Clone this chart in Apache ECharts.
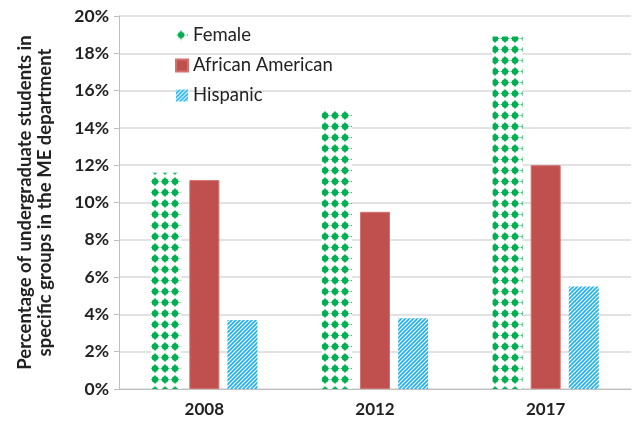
<!DOCTYPE html>
<html><head><meta charset="utf-8">
<script src="https://cdn.jsdelivr.net/npm/echarts@6/dist/echarts.min.js"></script>
<style>html,body{margin:0;padding:0;background:#fff}#c{width:633px;height:428px}</style>
</head><body><div id="c"></div>
<script>
const categories = ['2008', '2012', '2017'];
const seriesNames = ['Female', 'African American', 'Hispanic'];
const female = [11.6, 15.0, 18.9];
const africanAmerican = [11.2, 9.5, 12.0];
const hispanic = [3.7, 3.8, 5.5];
const yTicks = [0, 2, 4, 6, 8, 10, 12, 14, 16, 18, 20];

function dotPattern() {
  const c = document.createElement('canvas');
  c.width = 10; c.height = 11;
  const g = c.getContext('2d');
  g.fillStyle = '#ffffff'; g.fillRect(0, 0, 10, 11);
  g.fillStyle = '#00b050';
  g.beginPath(); g.arc(5, 5.5, 3.2, 0, Math.PI * 2); g.fill();
  g.beginPath();
  g.moveTo(5, 0.5); g.lineTo(7, 5.5); g.lineTo(5, 10.5); g.lineTo(3, 5.5); g.closePath(); g.fill();
  g.beginPath();
  g.moveTo(0, 5.5); g.lineTo(5, 4); g.lineTo(10, 5.5); g.lineTo(5, 7); g.closePath(); g.fill();
  return c;
}
function stripePattern() {
  const c = document.createElement('canvas');
  c.width = 4; c.height = 4;
  const g = c.getContext('2d');
  g.fillStyle = '#ffffff'; g.fillRect(0, 0, 4, 4);
  g.strokeStyle = '#1cb0ef'; g.lineWidth = 1.6;
  g.beginPath();
  g.moveTo(-1, 1); g.lineTo(1, -1);
  g.moveTo(-1, 5); g.lineTo(5, -1);
  g.moveTo(3, 5); g.lineTo(5, 3);
  g.stroke();
  return c;
}
const femaleFill = { image: dotPattern(), repeat: 'repeat' };
const hispFill = { image: stripePattern(), repeat: 'repeat' };

const chart = echarts.init(document.getElementById('c'), null, { renderer: 'canvas' });
const font = 'Lato, "Open Sans", sans-serif';
chart.setOption({
  animation: false,
  grid: { left: 119, right: 2, top: 16, bottom: 39 },
  legend: {
    orient: 'vertical', left: 170, top: 21, itemGap: 11,
    itemWidth: 12, itemHeight: 12,
    textStyle: { fontFamily: font, fontSize: 18.5, color: '#222' },
    data: seriesNames.map(n => ({ name: n, icon: 'rect' }))
  },
  xAxis: {
    type: 'category', data: categories,
    axisLine: { lineStyle: { color: '#bfbfbf', width: 1 } },
    axisTick: { show: false },
    axisLabel: { fontFamily: font, fontWeight: 'bold', fontSize: 17, color: '#222', margin: 12 }
  },
  yAxis: {
    type: 'value', min: 0, max: 20, interval: 2,
    name: 'Percentage of undergraduate students in\nspecific groups in the ME department',
    nameLocation: 'middle', nameGap: 64, nameRotate: 90,
    nameTextStyle: { fontFamily: font, fontWeight: 'bold', fontSize: 18.5, color: '#222', lineHeight: 20 },
    axisLine: { show: true, lineStyle: { color: '#bfbfbf' } },
    axisTick: { show: true, inside: false, length: 5, lineStyle: { color: '#bfbfbf' } },
    axisLabel: { fontFamily: font, fontWeight: 'bold', fontSize: 17.5, color: '#222', margin: 10,
      formatter: v => (yTicks.includes(v) ? v + '%' : '') },
    splitLine: { lineStyle: { color: '#d9d9d9', width: 1.5 } }
  },
  series: [
    { name: seriesNames[0], type: 'bar', data: female, barWidth: 30, barGap: '27%',
      itemStyle: { color: femaleFill } },
    { name: seriesNames[1], type: 'bar', data: africanAmerican, barWidth: 30, barGap: '27%',
      itemStyle: { color: '#c0504d', borderColor: '#d2716e', borderWidth: 1 } },
    { name: seriesNames[2], type: 'bar', data: hispanic, barWidth: 30, barGap: '27%',
      itemStyle: { color: hispFill } }
  ]
});
</script></body></html>
